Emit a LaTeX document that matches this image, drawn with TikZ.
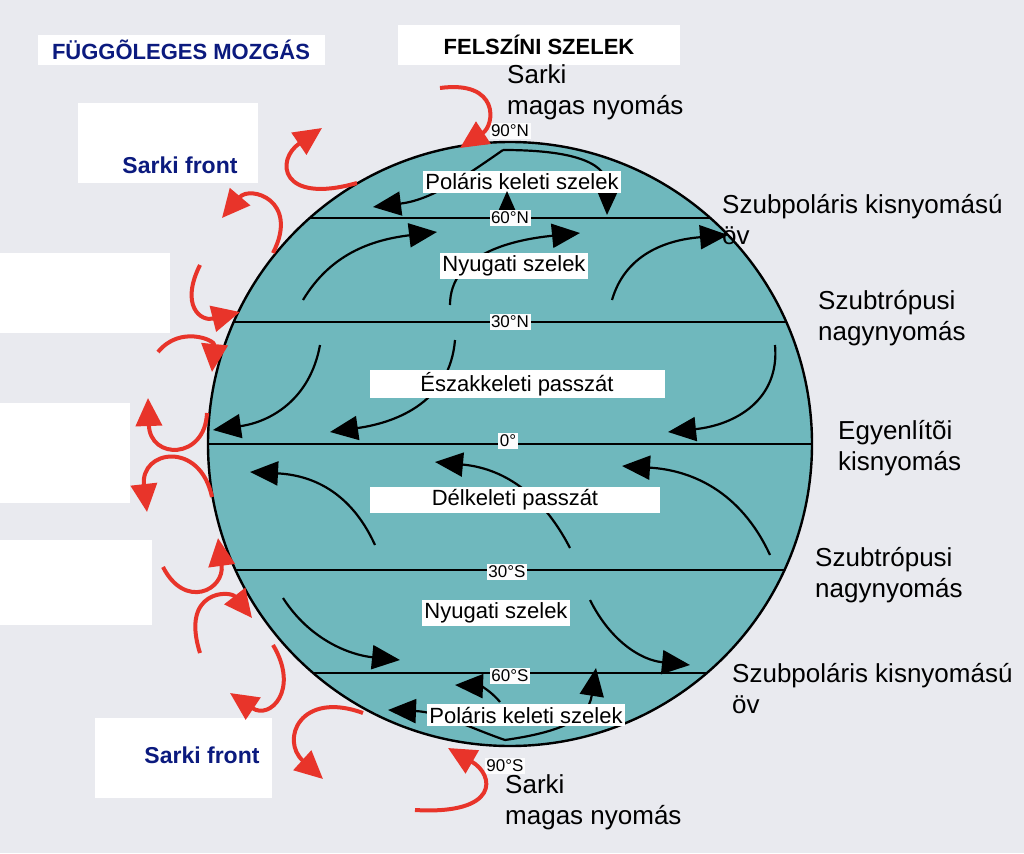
\documentclass[tikz,border=0pt]{standalone}
\usepackage{fontspec}
\setmainfont{Liberation Sans}
\usepackage{tikz}
\usetikzlibrary{arrows.meta,positioning}
\definecolor{bgcol}{HTML}{E9EAEF}
\definecolor{seacol}{HTML}{6FB8BD}
\definecolor{frontcol}{HTML}{0B1A7E}
\definecolor{redarr}{HTML}{E8342A}

\begin{document}
\begin{tikzpicture}[x=1pt,y=-1pt,
wind/.style ={draw=black, line width=2.2pt, -{Triangle[length=28pt,width=24pt]}},
updown/.style ={draw=redarr, line width=4pt, -{Triangle[length=28pt,width=26pt]}},
lat_line/.style ={draw=black, line width=1.8pt},
lat_label/.style ={rectangle, fill=white!85!bgcol, inner sep=1.5pt, font=\fontsize{17}{19}\selectfont},
wind_label/.style ={rectangle, fill=white, inner sep=2.5pt, font=\fontsize{22}{24}\selectfont},
zone_label/.style ={align=left, anchor=north west, inner sep=0pt, font=\fontsize{26}{31}\selectfont},
title_box/.style ={rectangle, fill=white, font=\fontsize{22}{24}\selectfont\bfseries},
blank_box/.style ={rectangle, fill=white, draw=none, anchor=north west, inner sep=0pt}]
  % background
    \fill[bgcol] (0,0) rectangle (1024,853);
    \useasboundingbox (0,0) rectangle (1024,853);
  % white boxes on the left
    \node [blank_box, minimum width=180pt, minimum height=80pt] (front_n) at (78,103) {};
    \node [blank_box, minimum width=170pt, minimum height=80pt] (box_a) at (0,253) {};
    \node [blank_box, minimum width=130pt, minimum height=100pt] (box_b) at (0,403) {};
    \node [blank_box, minimum width=152pt, minimum height=85pt] (box_c) at (0,540) {};
    \node [blank_box, minimum width=177pt, minimum height=80pt] (front_s) at (95,718) {};
    \node [font=\fontsize{23}{25}\selectfont\bfseries, text=frontcol] at (180,165) {Sarki front};
    \node [font=\fontsize{23}{25}\selectfont\bfseries, text=frontcol] at (202,755) {Sarki front};
  % titles
    \node [title_box, text=frontcol, minimum width=287pt, minimum height=30pt] (title_v) at (181,50) {FÜGGÕLEGES MOZGÁS};
    \node [title_box, text=black, minimum width=282pt, minimum height=40pt] (title_s) at (539,45) {FELSZÍNI SZELEK};
  % globe
    \coordinate (globe) at (510,444);
    \fill[seacol] (globe) circle (302);
    \begin{scope}
      \clip (globe) circle (302);
      \foreach \y in {218,322,444,570,673}
        \draw[lat_line] (150,\y) -- (900,\y);
    \end{scope}
    \draw[line width=2.4pt] (globe) circle (302);
  % surface winds
    \draw[wind] (503,150) .. controls (460,180) and (430,200) .. (373,207);
    \draw[wind] (503,150) .. controls (580,150) and (608,165) .. (607,215);
    \draw[wind] (303,300) .. controls (330,255) and (370,240) .. (437,232);
    \draw[wind] (450,305) .. controls (450,255) and (510,240) .. (580,233);
    \draw[wind] (612,300) .. controls (625,255) and (665,240) .. (728,235);
    \draw[wind] (320,345) .. controls (310,400) and (270,422) .. (213,430);
    \draw[wind] (455,340) .. controls (450,400) and (400,422) .. (330,432);
    \draw[wind] (775,345) .. controls (780,400) and (735,425) .. (668,432);
    \draw[wind] (375,545) .. controls (350,490) and (310,475) .. (250,472);
    \draw[wind] (570,548) .. controls (540,490) and (500,468) .. (435,462);
    \draw[wind] (770,555) .. controls (740,490) and (690,470) .. (622,466);
    \draw[wind] (283,598) .. controls (310,640) and (350,655) .. (400,660);
    \draw[wind] (590,600) .. controls (610,640) and (640,660) .. (690,665);
    \draw[wind] (505,740) .. controls (470,728) and (440,712) .. (388,710);
    \draw[wind] (500,702) .. controls (490,690) and (480,686) .. (455,685);
    \draw[wind] (505,740) .. controls (560,732) and (588,720) .. (596,668);
  % wind labels
    \node [wind_label] (polar_n) at (522,182) {Poláris keleti szelek};
    \node [wind_label] (west_n) at (514,266) {Nyugati szelek};
    \node [wind_label, minimum width=295pt] (trade_ne) at (517,384) {Északkeleti passzát};
    \node [wind_label, minimum width=290pt] (trade_se) at (515,500) {Délkeleti passzát};
    \node [wind_label] (west_s) at (496,613) {Nyugati szelek};
    \node [wind_label] (polar_s) at (526,715) {Poláris keleti szelek};
    \draw[wind] (507,214) -- (507,191);
  % latitude labels
    \node [lat_label] (lat90n) at (510,131) {90°N};
    \node [lat_label] (lat60n) at (510,218) {60°N};
    \node [lat_label] (lat30n) at (510,322) {30°N};
    \node [lat_label] (lat0) at (508,441) {0°};
    \node [lat_label] (lat30s) at (507,572) {30°S};
    \node [lat_label] (lat60s) at (510,676) {60°S};
    \node [lat_label] (lat90s) at (505,766) {90°S};
  % pressure zones
    \node [zone_label] (high_n) at (507,64) {Sarki\\magas nyomás};
    \node [zone_label] (sub_pol_n) at (722,194) {Szubpoláris kisnyomású\\öv};
    \node [zone_label] (sub_tr_n) at (818,290) {Szubtrópusi\\nagynyomás};
    \node [zone_label] (equator) at (838,420) {Egyenlítõi\\kisnyomás};
    \node [zone_label] (sub_tr_s) at (815,547) {Szubtrópusi\\nagynyomás};
    \node [zone_label] (sub_pol_s) at (732,663) {Szubpoláris kisnyomású\\öv};
    \node [zone_label] (high_s) at (505,774) {Sarki\\magas nyomás};
  % vertical motion
    \draw[updown] (440,88) .. controls (500,80) and (495,125) .. (460,148);
    \draw[updown] (357,183) .. controls (280,205) and (275,160) .. (322,128);
    \draw[updown] (273,253) .. controls (300,200) and (250,185) .. (222,218);
    \draw[updown] (200,265) .. controls (180,305) and (200,322) .. (240,312);
    \draw[updown] (158,352) .. controls (180,325) and (215,340) .. (212,372);
    \draw[updown] (207,413) .. controls (205,460) and (150,460) .. (148,398);
    \draw[updown] (212,497) .. controls (200,440) and (140,450) .. (147,512);
    \draw[updown] (163,567) .. controls (185,610) and (225,590) .. (218,538);
    \draw[updown] (200,653) .. controls (180,590) and (230,590) .. (252,618);
    \draw[updown] (273,645) .. controls (300,690) and (270,720) .. (230,693);
    \draw[updown] (363,713) .. controls (300,690) and (280,740) .. (323,779);
    \draw[updown] (415,810) .. controls (500,815) and (495,775) .. (448,748);
\end{tikzpicture}
\end{document}
